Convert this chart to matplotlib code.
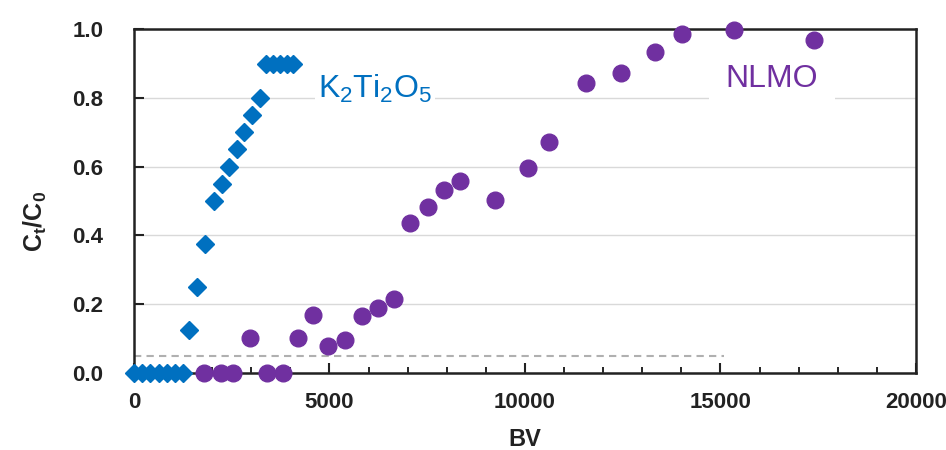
import numpy as np
import matplotlib
matplotlib.use('Agg')
import matplotlib.pyplot as plt
from matplotlib.ticker import MultipleLocator

plt.rcParams['font.family'] = ['Liberation Sans', 'DejaVu Sans']
plt.rcParams['mathtext.fontset'] = 'custom'
plt.rcParams['mathtext.rm'] = 'Liberation Sans'
plt.rcParams['mathtext.bf'] = 'Liberation Sans:bold'
plt.rcParams['mathtext.default'] = 'regular'

# K2Ti2O5 breakthrough
k_bv = [0, 210, 420, 630, 840, 1050, 1260,
        1420, 1620, 1820, 2050, 2240, 2440, 2630, 2820, 3030, 3230,
        3380, 3560, 3740, 3920, 4080]
k_ct = [0, 0, 0, 0, 0, 0, 0,
        0.125, 0.25, 0.375, 0.5, 0.55, 0.6, 0.65, 0.7, 0.75, 0.8,
        0.9, 0.9, 0.9, 0.9, 0.9]

# NLMO breakthrough
n_bv = [1790, 2220, 2540, 2970, 3390, 3820, 4200, 4590, 4970, 5400,
        5840, 6230, 6650, 7060, 7530, 7930, 8340, 9230, 10070, 10610,
        11570, 12460, 13330, 14020, 15350, 17400]
n_ct = [0, 0, 0, 0.1, 0, 0, 0.1, 0.168, 0.079, 0.095,
        0.165, 0.187, 0.215, 0.436, 0.481, 0.531, 0.558, 0.503, 0.595, 0.672,
        0.843, 0.872, 0.934, 0.986, 0.998, 0.969]

threshold = 0.05
threshold_end = 15100

blue = '#0070C0'
purple = '#7030A0'

fig = plt.figure(figsize=(9.46, 4.5), dpi=100)
ax = fig.add_axes([0.1416, 0.1718, 0.8267, 0.7633])

ax.yaxis.grid(True, color='#d9d9d9', lw=1.0, zorder=0)
ax.set_axisbelow(True)

ax.hlines(threshold, 0, threshold_end, colors='#b0b0b0', lw=1.5,
          linestyles=(0, (3.5, 2.5)), zorder=1)

ax.plot(k_bv, k_ct, 'D', color=blue, ms=8.7, mec=blue, clip_on=False, zorder=4)
ax.plot(n_bv, n_ct, 'o', color=purple, ms=12, mec=purple, clip_on=False, zorder=4)

ax.text(4710, 0.8, r'K$_2$Ti$_2$O$_5$', color=blue, fontsize=23,
        ha='left', va='baseline', zorder=3,
        bbox=dict(facecolor='white', edgecolor='none', pad=2))
ax.text(16320, 0.832, 'NLMO', color=purple, fontsize=23,
        ha='center', va='baseline', zorder=3,
        bbox=dict(facecolor='white', edgecolor='none', pad=12))

ax.set_xlim(0, 20000)
ax.set_ylim(0, 1.0)
ax.xaxis.set_major_locator(MultipleLocator(5000))
ax.xaxis.set_minor_locator(MultipleLocator(1000))
ax.yaxis.set_major_locator(MultipleLocator(0.2))
ax.yaxis.set_major_formatter(matplotlib.ticker.FormatStrFormatter('%.1f'))

ax.tick_params(axis='both', which='major', direction='in', length=7, width=1.5,
               labelsize=16, colors='#222222')
ax.tick_params(axis='x', which='major', pad=14)
ax.tick_params(axis='y', which='major', pad=22)
ax.tick_params(axis='x', which='minor', direction='in', length=4, width=1.2)
for lab in ax.get_xticklabels() + ax.get_yticklabels():
    lab.set_fontweight('bold')

for sp in ax.spines.values():
    sp.set_linewidth(1.8)
    sp.set_color('#222222')

ax.set_xlabel('BV', fontsize=17, fontweight='bold', color='#222222')
ax.set_ylabel(r'C$_\mathbf{t}$/C$_\mathbf{0}$', fontsize=18, fontweight='bold', color='#222222')
ax.xaxis.set_label_coords(0.5, -0.16)
ax.yaxis.set_label_coords(-0.108, 0.44)

fig.savefig('out.png', dpi=100)
